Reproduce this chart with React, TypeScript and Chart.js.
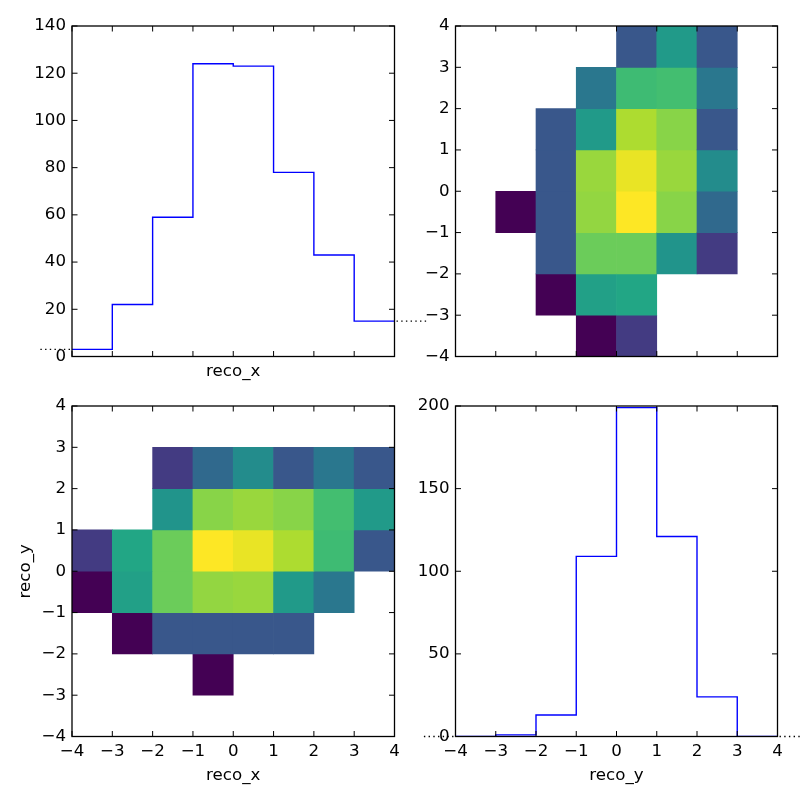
import React, { useEffect, useRef } from 'react';
import { Chart, registerables } from 'chart.js';

Chart.register(...registerables);

// ---------------- data ----------------
const binEdges = [-4, -3, -2, -1, 0, 1, 2, 3, 4];
const recoXCounts = [3, 22, 59, 124, 123, 78, 43, 15];
const recoYCounts = [0, 1, 13, 109, 199, 121, 24, 0];
// 2D counts: rows = reco_y bins (from -4..-3 upward), columns = reco_x bins (-4..-3 to 3..4)
const counts2D = [
  [0, 0, 0, 0, 0, 0, 0, 0],
  [0, 0, 0, 1, 0, 0, 0, 0],
  [0, 1, 3, 3, 3, 3, 0, 0],
  [1, 10, 23, 30, 31, 9, 5, 0],
  [2, 11, 23, 58, 51, 35, 16, 3],
  [0, 0, 8, 28, 31, 28, 17, 9],
  [0, 0, 2, 4, 7, 3, 5, 3],
  [0, 0, 0, 0, 0, 0, 0, 0],
];
const histXTicks = { min: 0, max: 140, step: 20 };
const histYTicks = { min: 0, max: 200, step: 50 };
const posTicks = { min: -4, max: 4, step: 1 };
// under/overflow marker extents (in axis units, outside the -4..4 range)
const overflowInner = 4.05;
const overflowOuter = 4.85;

// viridis colormap stops
const viridisStops = [
  '#440154', '#482475', '#414487', '#355f8d', '#2a788e', '#21918c',
  '#22a884', '#44bf70', '#7ad151', '#bddf26', '#fde725',
];

const FONT = 'DejaVu Sans';
const FS = 16.67;

function hexToRgb(h: string) {
  return [parseInt(h.slice(1, 3), 16), parseInt(h.slice(3, 5), 16), parseInt(h.slice(5, 7), 16)];
}
function viridis(t: number) {
  const tt = Math.max(0, Math.min(1, t)) * (viridisStops.length - 1);
  const i = Math.min(Math.floor(tt), viridisStops.length - 2);
  const f = tt - i;
  const a = hexToRgb(viridisStops[i]);
  const b = hexToRgb(viridisStops[i + 1]);
  const c = a.map((v, k) => Math.round(v + (b[k] - v) * f));
  return `rgb(${c[0]},${c[1]},${c[2]})`;
}
const vmax = Math.max(...counts2D.flat());
function cellColor(v: number) {
  return viridis(Math.log(v) / Math.log(vmax));
}

function fmt(v: number) {
  return v < 0 ? '\u2212' + String(-v) : String(v);
}

// heat cells: transposed = false => x: reco_x, y: reco_y
function heatCells(transposed: boolean) {
  const data: any[] = [];
  const colors: string[] = [];
  for (let yi = 0; yi < counts2D.length; yi++) {
    for (let xi = 0; xi < counts2D[yi].length; xi++) {
      const v = counts2D[yi][xi];
      if (v <= 0) continue;
      const ci = transposed ? yi : xi;
      const ri = transposed ? xi : yi;
      data.push({ x: (binEdges[ci] + binEdges[ci + 1]) / 2, y: [binEdges[ri], binEdges[ri + 1]] });
      colors.push(cellColor(v));
    }
  }
  return { data, colors };
}

function stepData(counts: number[]) {
  return binEdges.map((e, i) => ({ x: e, y: counts[Math.min(i, counts.length - 1)] }));
}
// unsorted on purpose so Chart.js draws the parts outside the axis range
function overflowData(counts: number[]) {
  const last = counts[counts.length - 1];
  return [
    { x: -overflowInner, y: counts[0] },
    { x: -overflowOuter, y: counts[0] },
    { x: 0, y: null },
    { x: overflowInner, y: last },
    { x: overflowOuter, y: last },
  ];
}

// ---------------- layout helpers ----------------
type Area = { l: number; r: number; t: number; b: number };
const AREAS: Record<string, Area> = {
  tl: { l: 72, r: 394.5, t: 26, b: 356.5 },
  tr: { l: 455.5, r: 777.5, t: 26, b: 356.5 },
  bl: { l: 72, r: 394.5, t: 406, b: 736.5 },
  br: { l: 455.5, r: 777.5, t: 406, b: 736.5 },
};
const YW = 60;
function padding(a: Area, xh: number) {
  return { left: a.l - YW, top: a.t, right: 800 - a.r, bottom: 800 - a.b - xh };
}

const framePlugin = {
  id: 'frame',
  afterDraw(chart: any) {
    const { ctx, chartArea: a, scales } = chart;
    const tl = 5.5;
    ctx.save();
    ctx.strokeStyle = '#000';
    ctx.lineWidth = 1;
    ctx.beginPath();
    for (const t of scales.x.ticks) {
      const px = scales.x.getPixelForValue(t.value);
      ctx.moveTo(px, a.bottom);
      ctx.lineTo(px, a.bottom - tl);
      ctx.moveTo(px, a.top);
      ctx.lineTo(px, a.top + tl);
    }
    for (const t of scales.y.ticks) {
      const py = scales.y.getPixelForValue(t.value);
      ctx.moveTo(a.left, py);
      ctx.lineTo(a.left + tl, py);
      ctx.moveTo(a.right, py);
      ctx.lineTo(a.right - tl, py);
    }
    ctx.stroke();
    ctx.lineWidth = 1.3;
    ctx.strokeRect(a.left, a.top, a.right - a.left, a.bottom - a.top);
    ctx.restore();
  },
};

function xAxis(showLabels: boolean, title: string | null, h: number, titlePad: number) {
  return {
    type: 'linear',
    min: posTicks.min,
    max: posTicks.max,
    offset: false,
    grid: { display: false, drawTicks: false },
    border: { display: false },
    ticks: {
      display: showLabels,
      stepSize: posTicks.step,
      autoSkip: false,
      maxRotation: 0,
      padding: 5,
      color: '#000',
      font: { family: FONT, size: FS },
      callback: (v: number) => fmt(v),
    },
    title: title
      ? { display: true, text: title, color: '#000', font: { family: FONT, size: FS }, padding: { top: 0, bottom: titlePad } }
      : { display: false },
    afterFit: (s: any) => {
      s.height = h;
    },
  };
}
function yAxis(min: number, max: number, step: number, title: string | null) {
  return {
    type: 'linear',
    min,
    max,
    grid: { display: false, drawTicks: false },
    border: { display: false },
    ticks: {
      stepSize: step,
      autoSkip: false,
      padding: 6,
      color: '#000',
      font: { family: FONT, size: FS },
      callback: (v: number) => fmt(v),
    },
    title: title
      ? { display: true, text: title, color: '#000', font: { family: FONT, size: FS }, padding: { top: 4, bottom: 0 } }
      : { display: false },
    afterFit: (s: any) => {
      s.width = YW;
    },
  };
}

const baseOptions = {
  responsive: false,
  animation: false,
  events: [],
  plugins: { legend: { display: false }, tooltip: { enabled: false } },
};

function histConfig(counts: number[], area: Area, yt: { min: number; max: number; step: number }, xLabels: boolean, xTitle: string, xh: number) {
  return {
    type: 'line',
    data: {
      datasets: [
        {
          data: stepData(counts),
          borderColor: '#0000ff',
          borderWidth: 1.4,
          pointRadius: 0,
          stepped: 'before',
          fill: false,
        },
        {
          data: overflowData(counts),
          borderColor: '#000000',
          borderWidth: 1.4,
          borderDash: [1.4, 3.3],
          pointRadius: 0,
          spanGaps: false,
          clip: false,
          fill: false,
        },
      ],
    },
    options: {
      ...baseOptions,
      layout: { autoPadding: false, padding: padding(area, xh) },
      scales: {
        x: xAxis(xLabels, xTitle, xh, 0),
        y: yAxis(yt.min, yt.max, yt.step, null),
      },
    },
    plugins: [framePlugin],
  };
}

function heatConfig(transposed: boolean, area: Area, xLabels: boolean, xTitle: string | null, yTitle: string | null, xh: number) {
  const { data, colors } = heatCells(transposed);
  return {
    type: 'bar',
    data: {
      datasets: [
        {
          data,
          backgroundColor: colors,
          borderWidth: 0,
          barPercentage: 1,
          categoryPercentage: 1,
          grouped: false,
        },
      ],
    },
    options: {
      ...baseOptions,
      layout: { autoPadding: false, padding: padding(area, xh) },
      scales: {
        x: xAxis(xLabels, xTitle, xh, 0),
        y: yAxis(posTicks.min, posTicks.max, posTicks.step, yTitle),
      },
    },
    plugins: [framePlugin],
  };
}

export default function App() {
  const r0 = useRef<HTMLCanvasElement>(null);
  const r1 = useRef<HTMLCanvasElement>(null);
  const r2 = useRef<HTMLCanvasElement>(null);
  const r3 = useRef<HTMLCanvasElement>(null);

  useEffect(() => {
    const configs: any[] = [
      histConfig(recoXCounts, AREAS.tl, histXTicks, false, 'reco_x', 25),
      heatConfig(true, AREAS.tr, false, null, null, 10),
      heatConfig(false, AREAS.bl, true, 'reco_x', 'reco_y', 49),
      histConfig(recoYCounts, AREAS.br, histYTicks, true, 'reco_y', 49),
    ];
    const refs = [r0, r1, r2, r3];
    const charts = configs.map((cfg, i) => new Chart(refs[i].current as HTMLCanvasElement, cfg));
    return () => charts.forEach((c) => c.destroy());
  }, []);

  const cs: React.CSSProperties = { position: 'absolute', left: 0, top: 0, width: 800, height: 800 };
  return (
    <div style={{ position: 'absolute', left: 0, top: 0, width: 800, height: 800, background: '#fff' }}>
      <canvas ref={r0} width={800} height={800} style={cs} />
      <canvas ref={r1} width={800} height={800} style={cs} />
      <canvas ref={r2} width={800} height={800} style={cs} />
      <canvas ref={r3} width={800} height={800} style={cs} />
    </div>
  );
}
